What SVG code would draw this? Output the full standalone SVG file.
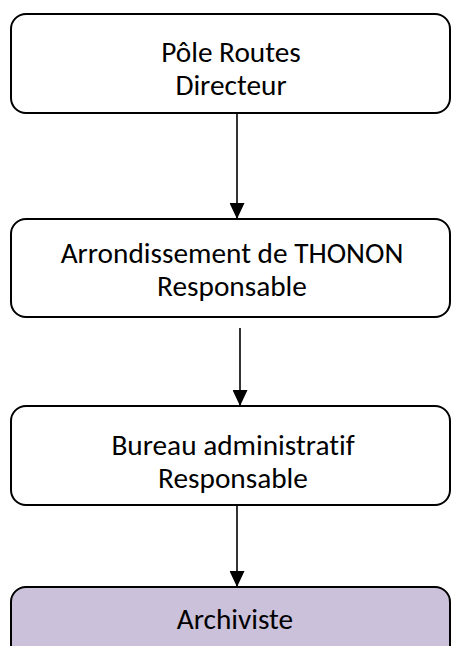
<svg xmlns="http://www.w3.org/2000/svg" width="451" height="646" viewBox="0 0 451 646">
<style>
.box{fill:#ffffff;stroke:#000000;stroke-width:2}
.hl{fill:#ccc1da}
.t{font-family:Carlito,Lato,"Open Sans",sans-serif;font-size:29.3px;fill:#000000;text-anchor:middle;font-variant-ligatures:none}
.c{stroke:#000000;stroke-width:1.6;fill:none}
</style>
<defs>
<marker id="ah" viewBox="0 0 16 15" refX="16" refY="7.5" markerWidth="16" markerHeight="15" markerUnits="userSpaceOnUse" orient="auto">
<path d="M0,0 L16,7.5 L0,15 z" fill="#000000"/>
</marker>
</defs>
<rect width="451" height="646" fill="#ffffff"/>
<g id="connectors">
<line class="c" x1="237" y1="113" x2="237" y2="219" marker-end="url(#ah)"/>
<line class="c" x1="240" y1="328" x2="240" y2="406" marker-end="url(#ah)"/>
<line class="c" x1="237" y1="505" x2="237" y2="587" marker-end="url(#ah)"/>
</g>
<g id="node-pole">
<rect class="box" x="11" y="14" width="439" height="99" rx="15"/>
<text class="t" x="231" y="62">Pôle Routes</text>
<text class="t" x="231" y="95">Directeur</text>
</g>
<g id="node-arrondissement">
<rect class="box" x="11" y="219" width="439" height="98" rx="15"/>
<text class="t" x="232" y="263">Arrondissement de THONON</text>
<text class="t" x="232" y="296">Responsable</text>
</g>
<g id="node-bureau">
<rect class="box" x="11" y="406" width="439" height="99" rx="15"/>
<text class="t" x="233" y="455">Bureau administratif</text>
<text class="t" x="233" y="488">Responsable</text>
</g>
<g id="node-archiviste">
<rect class="box hl" x="11" y="587" width="439" height="99" rx="15"/>
<text class="t" x="235" y="629">Archiviste</text>
</g>
</svg>
